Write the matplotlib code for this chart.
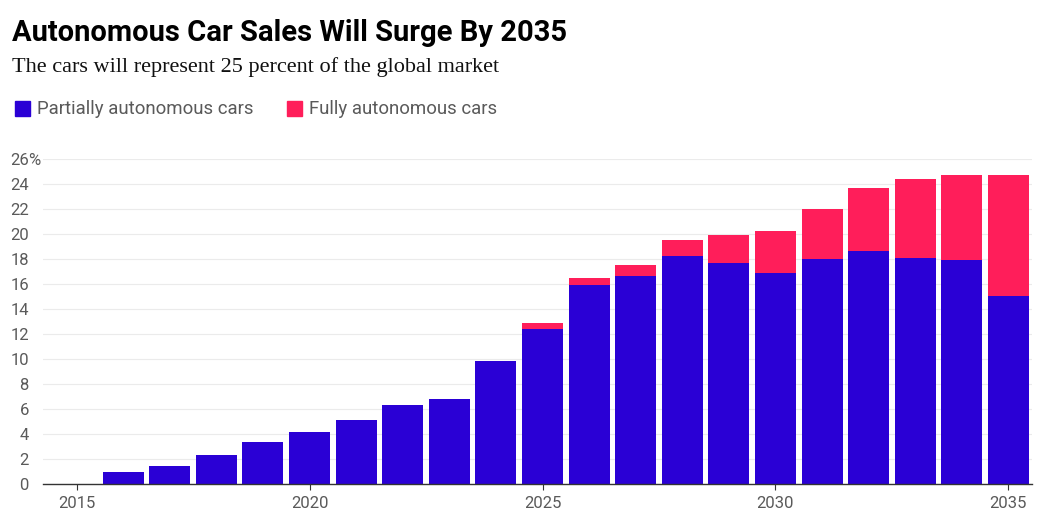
import matplotlib.pyplot as plt

# Data (share of global car sales, %)
years = list(range(2016, 2036))
partial = [0.95, 1.4, 2.35, 3.35, 4.15, 5.15, 6.3, 6.8, 9.8, 12.4,
           15.9, 16.6, 18.2, 17.65, 16.9, 18.0, 18.6, 18.05, 17.9, 15.0]
full = [0, 0, 0, 0, 0, 0, 0, 0, 0, 0.5,
        0.6, 0.9, 1.3, 2.25, 3.35, 4.0, 5.1, 6.35, 6.8, 9.7]
y_ticks = list(range(0, 27, 2))
x_ticks = [2015, 2020, 2025, 2030, 2035]

BLUE = '#2a00d5'
PINK = '#ff1e5a'
GREY = '#5a5a5a'

fig = plt.figure(figsize=(10.4, 5.14), dpi=100)
ax = fig.add_axes([0.041, 0.0584, 0.951, 0.6323])

ax.bar(years, partial, width=0.88, color=BLUE, zorder=2)
ax.bar(years, full, width=0.88, bottom=partial, color=PINK, zorder=2)

ax.set_xlim(2014.27, 2035.5)
ax.set_ylim(0, 26)
ax.set_yticks(y_ticks)
ax.set_yticklabels([str(v) for v in y_ticks])
ax.set_xticks(x_ticks)
ax.set_xticklabels([str(v) for v in x_ticks])
ax.grid(axis='y', color='#ebebeb', linewidth=0.8, zorder=0)
ax.set_axisbelow(True)

for side in ['top', 'right', 'left']:
    ax.spines[side].set_visible(False)
ax.spines['bottom'].set_color('#333333')
ax.spines['bottom'].set_linewidth(1.0)
ax.tick_params(axis='y', length=0, pad=10, labelsize=12, labelcolor=GREY)
ax.tick_params(axis='x', length=4, width=0.8, color='#333333', pad=5,
               labelsize=12, labelcolor=GREY)
for lbl in ax.get_yticklabels() + ax.get_xticklabels():
    lbl.set_fontfamily('Roboto')

# percent sign hanging after the top label
ax.annotate('%', xy=(0, 26), xycoords=('axes fraction', 'data'),
            xytext=(-10.6, 0), textcoords='offset points', ha='left',
            va='center_baseline', fontsize=12, color=GREY, family='Roboto')

# title, subtitle, legend
fig.text(0.012, 0.935, 'Autonomous Car Sales Will Surge By 2035', fontsize=21,
         fontweight='bold', family='Roboto', color='black', va='center')
fig.text(0.012, 0.87, 'The cars will represent 25 percent of the global market',
         fontsize=16, family='Liberation Serif', color='#111111', va='center')

fig.patches.append(plt.Rectangle((15 / 1040, 1 - 116 / 514), 15 / 1040, 15 / 514,
                                 transform=fig.transFigure, color=BLUE))
fig.text(37 / 1040, 1 - 109 / 514, 'Partially autonomous cars', fontsize=13.4,
         family='Roboto', color=GREY, va='center')
fig.patches.append(plt.Rectangle((287 / 1040, 1 - 116 / 514), 15 / 1040, 15 / 514,
                                 transform=fig.transFigure, color=PINK))
fig.text(309 / 1040, 1 - 109 / 514, 'Fully autonomous cars', fontsize=13.4,
         family='Roboto', color=GREY, va='center')

fig.savefig('out.png', dpi=100, facecolor='white')
